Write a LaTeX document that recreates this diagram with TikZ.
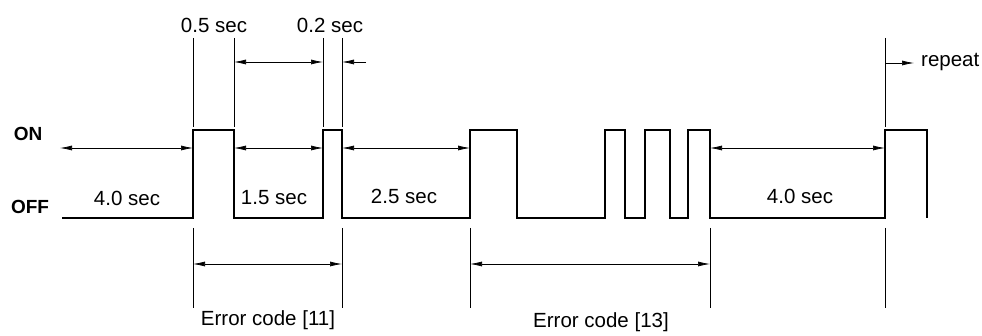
\documentclass[tikz,border=0pt]{standalone}
\usepackage{fontspec}
\setmainfont{Liberation Sans}
\usetikzlibrary{arrows.meta}
\begin{document}
\begin{tikzpicture}[x=1pt,y=-1pt,
    >={Latex[length=12pt,width=5pt]},
    sig/.style={line width=2.6pt,line join=miter},
    ext/.style={line width=0.9pt},
    dim/.style={line width=0.7pt},
    lbl/.style={font=\fontsize{20.5}{24}\selectfont,inner sep=0pt},
    lvl/.style={font=\fontsize{19}{22}\selectfont\bfseries,inner sep=0pt}]
            \def\on{130}
            \def\off{218}
            \def\xa{193}
            \def\xb{234}
            \def\xc{323}
            \def\xd{342}
            \def\xe{470}
            \def\xf{710}
            \def\xg{885}
            \useasboundingbox (0,0) rectangle (982,336);
            % signal
            \draw[sig] (62,\off)--(\xa,\off)--(\xa,\on)--(\xb,\on)--(\xb,\off)
                --(\xc,\off)--(\xc,\on)--(\xd,\on)--(\xd,\off)
                --(\xe,\off)--(\xe,\on)--(517,\on)--(517,\off)
                --(605,\off)--(605,\on)--(625,\on)--(625,\off)
                --(645,\off)--(645,\on)--(670,\on)--(670,\off)
                --(688,\off)--(688,\on)--(\xf,\on)--(\xf,\off)
                --(\xg,\off)--(\xg,\on)--(927,\on)--(927,\off);
            % extension lines
            \foreach \x in {\xa,\xb,\xc,\xd,\xg}
                {\draw[ext] (\x,38)--(\x,127);}
            \foreach \x in {\xa,\xd,\xe,\xf,\xg}
                {\draw[ext] (\x,228)--(\x,308);}
            % dimension arrows
            \draw[dim,<->] (60,148)--(\xa,148);
            \draw[dim,<->] (\xb,148)--(\xc,148);
            \draw[dim,<->] (\xd,148)--(\xe,148);
            \draw[dim,<->] (\xf,148)--(\xg,148);
            \draw[dim,<->] (\xb,62)--(\xc,62);
            \draw[dim,->] (366,62)--(\xd,62);
            \draw[dim,->] (\xg,63)--(914,63);
            \draw[dim,<->] (\xa,264)--(\xd,264);
            \draw[dim,<->] (\xe,264)--(\xf,264);
            % labels
            \node[lvl] (on) at (28,134) {ON};
            \node[lvl] (off) at (30,207) {OFF};
            \node[lbl] (tpulse) at (214,25) {0.5 sec};
            \node[lbl] (tshort) at (330,25) {0.2 sec};
            \node[lbl,anchor=west] (rep) at (921,62) {repeat};
            \node[lbl] (tfirst) at (127,198) {4.0 sec};
            \node[lbl] (tgap) at (274,198) {1.5 sec};
            \node[lbl] (tpause) at (404,196) {2.5 sec};
            \node[lbl] (tlast) at (800,196) {4.0 sec};
            \node[lbl] (err11) at (268,320) {Error code [11]};
            \node[lbl] (err13) at (601,322) {Error code [13]};
\end{tikzpicture}
\end{document}
